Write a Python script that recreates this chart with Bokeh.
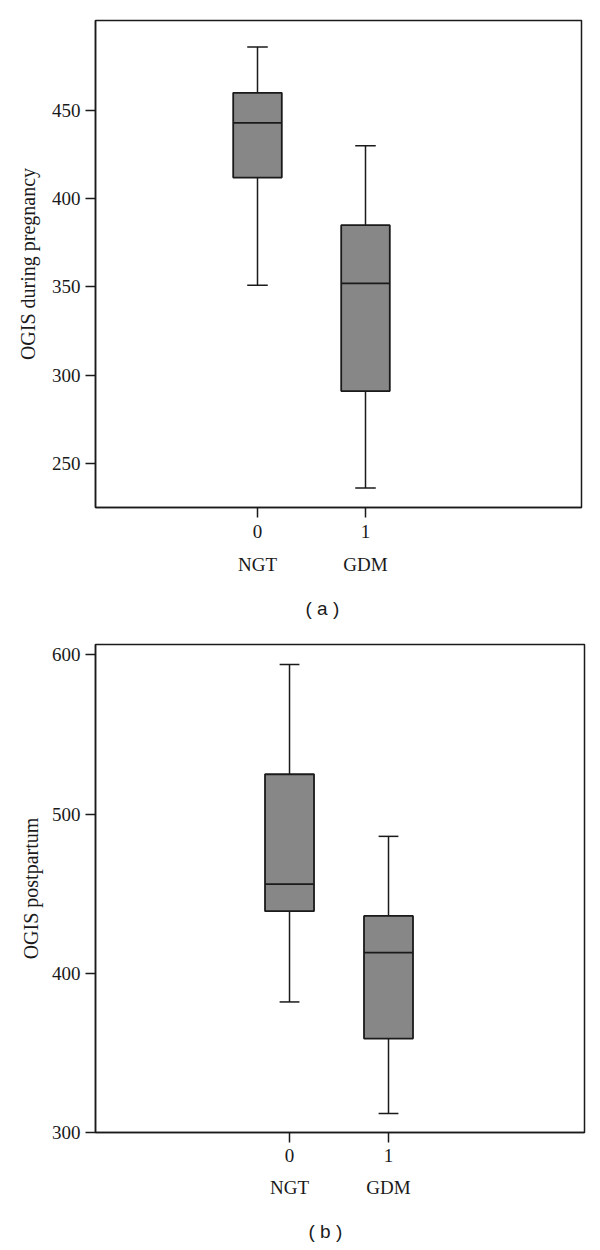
from bokeh.plotting import figure
from bokeh.models import FixedTicker, LinearAxis, Range1d
from bokeh.layouts import column
from bokeh.embed import file_html
from bokeh.resources import INLINE

# ---------------- data ----------------
groups = ["NGT", "GDM"]
group_codes = [0, 1]

preg_low = [351, 236]
preg_q1 = [412, 291]
preg_med = [443, 352]
preg_q3 = [460, 385]
preg_high = [486, 430]
preg_ticks = [250, 300, 350, 400, 450]

post_low = [382, 312]
post_q1 = [439, 359]
post_med = [456, 413]
post_q3 = [525, 436]
post_high = [594, 486]
post_ticks = [300, 400, 500, 600]

SERIF = "Liberation Serif"
SANS = "Liberation Sans"
BOX_FILL = "#878787"
INK = "#1a1a1a"


def style_axis(ax, tick_out, standoff):
    ax.axis_line_color = INK
    ax.axis_line_width = 1.5
    ax.major_tick_out = tick_out
    ax.major_tick_in = 0
    ax.major_tick_line_width = 1.5
    ax.major_tick_line_color = INK
    ax.minor_tick_line_color = None
    ax.major_label_standoff = standoff
    ax.major_label_text_font = SERIF
    ax.major_label_text_font_size = "19px"
    ax.major_label_text_color = INK


def make_panel(low, q1, med, q3, high, yticks, xr, yr, box_w, cap_w,
               ylabel, label_standoff, caption,
               left, top, fw, fh, bottom, sx1, sx2, cap_standoff, cap_offset):
    p = figure(output_backend="svg", toolbar_location=None,
               x_range=Range1d(*xr), y_range=Range1d(*yr),
               frame_width=fw, frame_height=fh,
               min_border_left=left, min_border_top=top,
               min_border_right=11, min_border_bottom=bottom,
               x_axis_location=None, y_axis_location=None,
               title_location="below")
    p.grid.visible = False
    p.outline_line_color = INK
    p.outline_line_width = 1.5
    p.background_fill_color = "white"
    p.border_fill_color = "white"

    ya = LinearAxis(ticker=FixedTicker(ticks=yticks))
    style_axis(ya, 10, 5)
    ya.axis_label = ylabel
    ya.axis_label_text_font = SERIF
    ya.axis_label_text_font_size = "20px"
    ya.axis_label_text_font_style = "normal"
    ya.axis_label_text_color = INK
    ya.axis_label_standoff = label_standoff
    p.add_layout(ya, "left")

    xa = LinearAxis(ticker=FixedTicker(ticks=group_codes))
    style_axis(xa, 10, sx1)
    p.add_layout(xa, "below")

    xb = LinearAxis(ticker=FixedTicker(ticks=group_codes))
    style_axis(xb, 0, sx2)
    xb.major_label_overrides = {c: g for c, g in zip(group_codes, groups)}
    xb.axis_line_color = None
    xb.major_tick_line_color = None
    p.add_layout(xb, "below")

    p.title.text = caption
    p.title.align = "left"
    p.title.offset = cap_offset
    p.title.text_font = SANS
    p.title.text_font_size = "19px"
    p.title.text_font_style = "normal"
    p.title.text_color = INK
    p.title.standoff = cap_standoff

    xs = group_codes
    p.segment(x0=xs, y0=q3, x1=xs, y1=high, line_color=INK, line_width=1.5)
    p.segment(x0=xs, y0=q1, x1=xs, y1=low, line_color=INK, line_width=1.5)
    p.segment(x0=[x - cap_w / 2 for x in xs], y0=high,
              x1=[x + cap_w / 2 for x in xs], y1=high,
              line_color=INK, line_width=1.5)
    p.segment(x0=[x - cap_w / 2 for x in xs], y0=low,
              x1=[x + cap_w / 2 for x in xs], y1=low,
              line_color=INK, line_width=1.5)
    p.vbar(x=xs, width=box_w, top=q3, bottom=q1, fill_color=BOX_FILL,
           line_color=INK, line_width=1.8)
    p.segment(x0=[x - box_w / 2 for x in xs], y0=med,
              x1=[x + box_w / 2 for x in xs], y1=med,
              line_color=INK, line_width=1.8)
    return p


p1 = make_panel(preg_low, preg_q1, preg_med, preg_q3, preg_high, preg_ticks,
                xr=(-1.5, 3.0), yr=(225, 501), box_w=0.45, cap_w=0.19,
                ylabel="OGIS during pregnancy", label_standoff=10,
                caption="( a )", left=95, top=20, fw=486, fh=487, bottom=0,
                sx1=7, sx2=13, cap_standoff=36, cap_offset=210)

p2 = make_panel(post_low, post_q1, post_med, post_q3, post_high, post_ticks,
                xr=(-1.96, 2.98), yr=(300, 606.5), box_w=0.495, cap_w=0.2,
                ylabel="OGIS postpartum", label_standoff=7,
                caption="( b )", left=92, top=8, fw=489, fh=488, bottom=0,
                sx1=6, sx2=12, cap_standoff=37, cap_offset=213)

layout = column(p1, p2, spacing=0)
open("out.html", "w").write(file_html(layout, INLINE))
